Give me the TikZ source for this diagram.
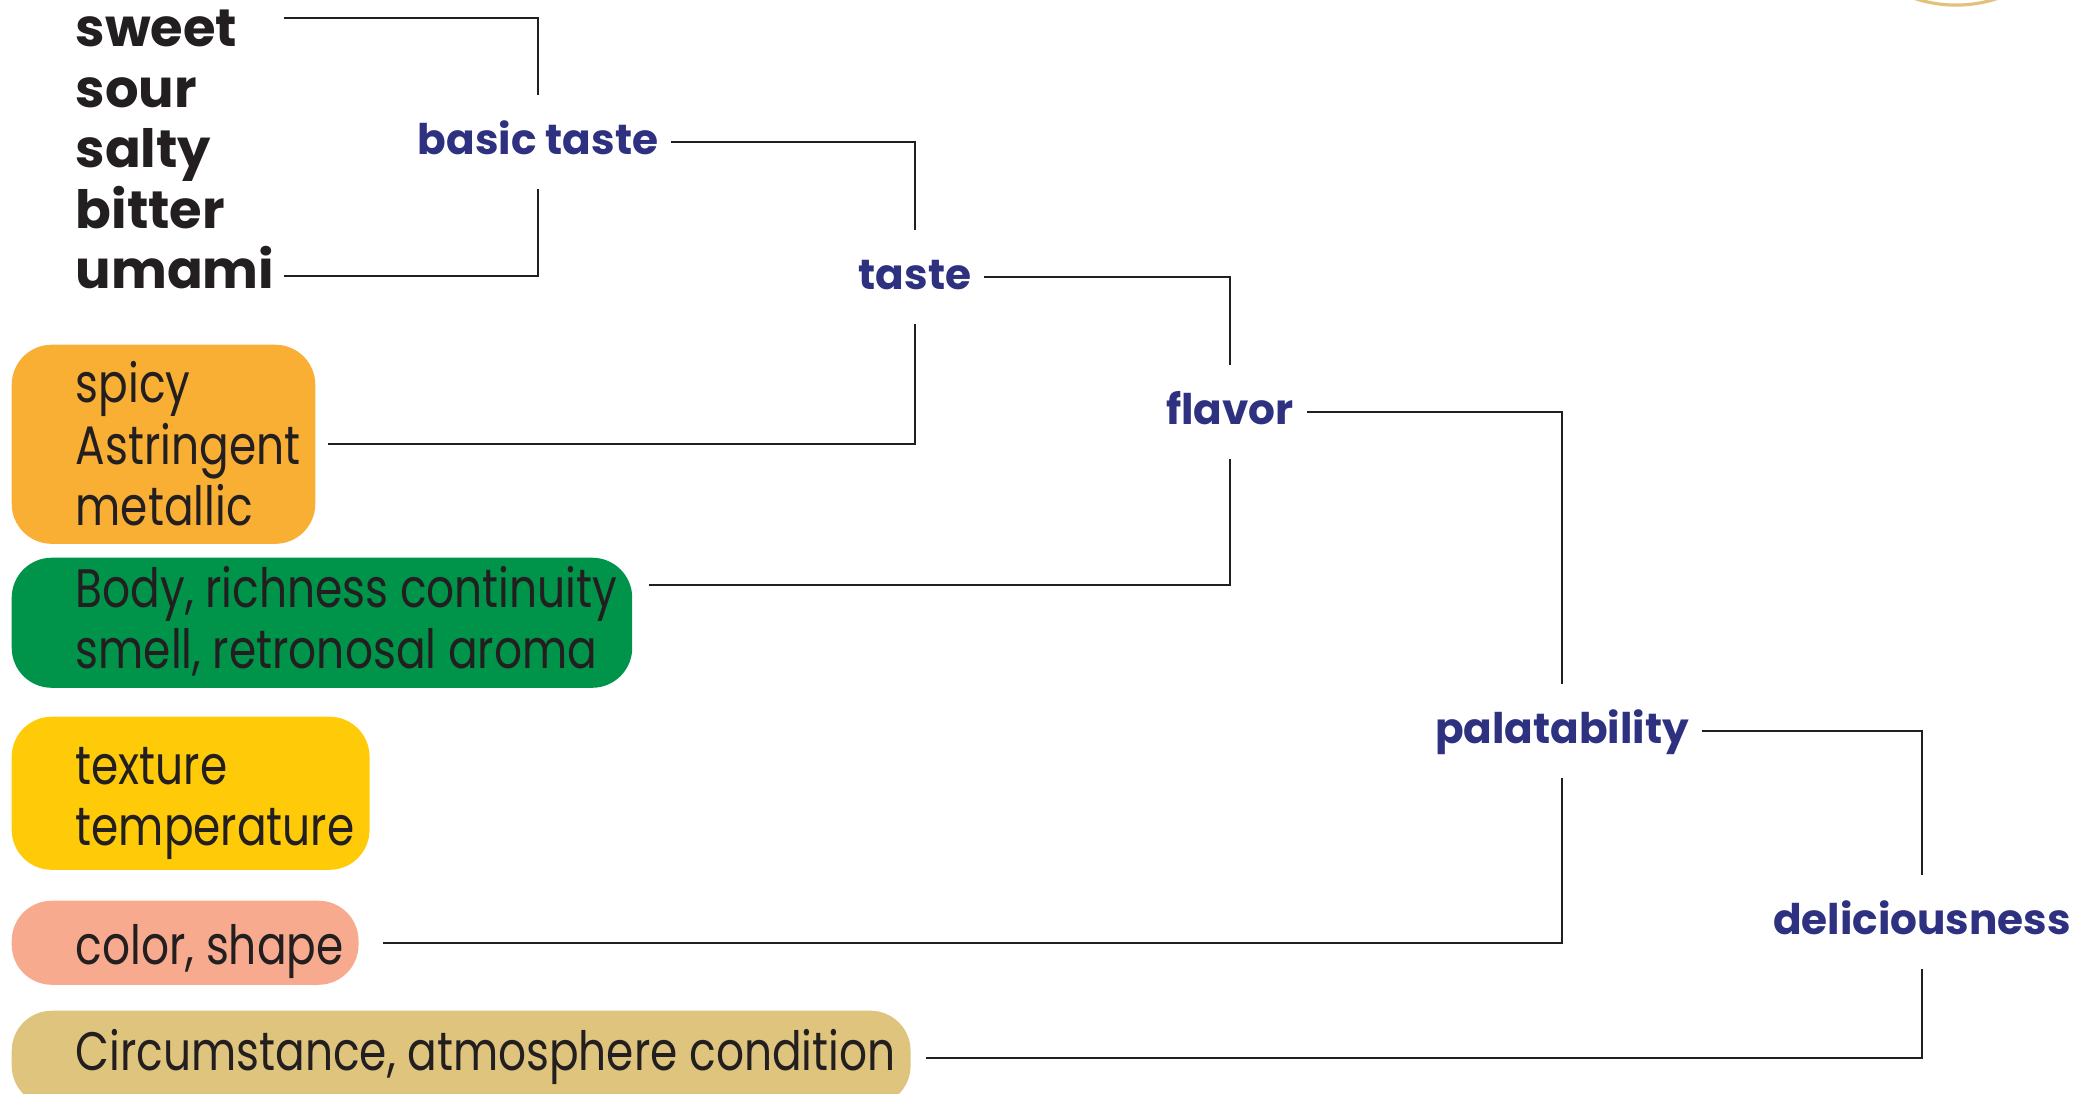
\documentclass[tikz,border=0pt]{standalone}
\usepackage{fontspec}
\setmainfont{Poppins}
\newfontfamily\condensed{Poppins}[FakeStretch=0.81]
\usepackage{xcolor}
\definecolor{navy}{HTML}{2E3180}
\definecolor{ink}{HTML}{231F20}
\definecolor{spicyorange}{HTML}{F9AE34}
\definecolor{bodygreen}{HTML}{00934A}
\definecolor{textureyellow}{HTML}{FFCB08}
\definecolor{colorpink}{HTML}{F8AA8F}
\definecolor{moodtan}{HTML}{DFC47E}
\definecolor{ringgold}{HTML}{E2C27A}
\newcommand{\boxlines}[2][16.5pt]{\begin{tabular}{@{\hspace{0.49cm}}l@{}}\rule{0pt}{#1}#2\end{tabular}}

\tikzset{
  taste word/.style={font=\bfseries\fontsize{15pt}{18pt}\selectfont, text=ink, inner sep=0pt,
    anchor=base west, text width=2.07cm, text height=0.36cm, text depth=0.12cm},
  level/.style={font=\bfseries\fontsize{12pt}{14pt}\selectfont, text=navy, anchor=base,
    inner xsep=0.12cm, inner ysep=0.24cm, text height=0.34cm, text depth=0.1cm},
  group/.style={fill=#1, rounded corners=0.4cm, anchor=north west, inner xsep=0.15cm,
    inner ysep=0pt, font=\condensed\fontsize{15.4pt}{17.4pt}\selectfont, text=ink},
  link/.style={draw=ink, line width=0.6pt},
}

\begin{document}
\begin{tikzpicture}[x=0.01cm, y=-0.01cm]
  \useasboundingbox (0,0) rectangle (2091,1093);

  % basic tastes
  \node[taste word] (sweet) at (75,46) {sweet};
  \node[taste word] (sour) at (75,107) {sour};
  \node[taste word] (salty) at (75,167) {salty};
  \node[taste word] (bitter) at (75,228) {bitter};
  \node[taste word] (umami) at (75,288) {umami};

  % other senses
  \node[group=spicyorange, minimum height=1.99cm] (spicy) at (11,344) {\boxlines{spicy\\Astringent\\metallic}};
  \node[group=bodygreen, minimum height=1.30cm] (body) at (11,557) {\boxlines[14pt]{Body, richness continuity\\smell, retronosal aroma}};
  \node[group=textureyellow, minimum height=1.53cm] (feel) at (11,716) {\boxlines[17.5pt]{texture\\temperature}};
  \node[group=colorpink, minimum height=0.84cm] (look) at (11,900) {\boxlines[17.5pt]{color, shape}};
  \node[group=moodtan, minimum height=0.95cm] (mood) at (11,1010) {\boxlines[0pt]{Circumstance, atmosphere condition}};

  % levels
  \node[level] (basic) at (538,154) {basic taste};
  \node[level] (taste) at (915,289) {taste};
  \node[level] (flavor) at (1230,424) {flavor};
  \node[level] (palat) at (1562,743) {palatability};
  \node[level] (delic) at (1922,934) {deliciousness};

\draw[link] ([yshift=0.16cm]sweet.east) -| (basic.north);
\draw[link] (umami.east) -| (basic.south);
\draw[link] (basic.east) -| (taste.north);
\draw[link] ([xshift=0.12cm]spicy.east) -| (taste.south);
\draw[link] (taste.east) -| (flavor.north);
\draw[link] ([xshift=0.16cm,yshift=0.38cm]body.east) -| (flavor.south);
\draw[link] (flavor.east) -| (palat.north);
\draw[link] ([xshift=0.24cm]look.east) -| (palat.south);
\draw[link] (palat.east) -| (delic.north);
\draw[link] ([xshift=0.15cm]mood.east) -| (delic.south);

  % ring peeking in at the top
  \draw[ringgold, line width=0.9pt] (1956,-126) circle[radius=1.31cm];

\end{tikzpicture}
\end{document}
